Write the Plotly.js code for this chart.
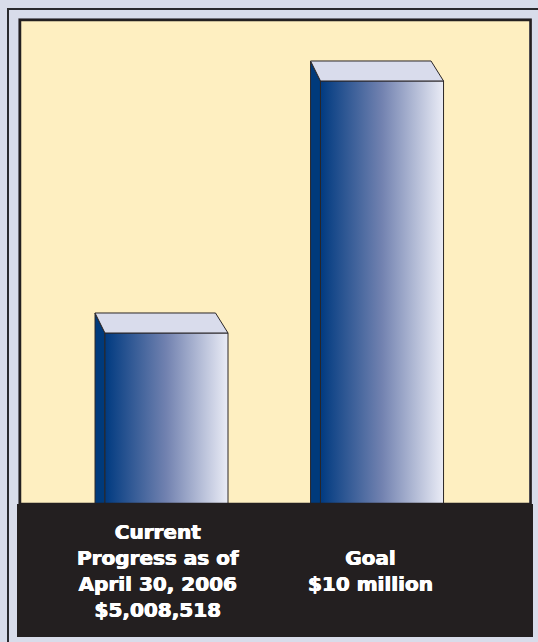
<!DOCTYPE html>
<html>
<head>
<meta charset="utf-8">
<script src="https://cdn.plot.ly/plotly-3.0.1.min.js"></script>
<style>html,body{margin:0;padding:0;background:#D8DCEA;}#chart{width:538px;height:642px;}</style>
</head>
<body>
<div id="chart"></div>
<script>
// ---- data ----
const categories = ['Current Progress as of April 30, 2006', 'Goal'];
const labels = ['Current<br>Progress as of<br>April 30, 2006<br>$5,008,518', 'Goal<br>$10 million'];
const values = [5008518, 10000000];
const positions = [0, 1];

// ---- styling constants ----
const W = 538, H = 642;
const M = {l: 21, r: 9, t: 21, b: 5};
const PW = W - M.l - M.r, PH = H - M.t - M.b;
const BAR_W = 0.571;          // front face width in axis units
const DEPTH_XL = 0.046;       // back-left offset
const DEPTH_XR = 0.058;       // back-right offset
const DEPTH_Y = 0.396e6;      // top depth in value units
const EDGE = '#2a2628';
const labelShift = [-8.5, -12];

function px(x) { return (x - M.l) / PW; }
function py(y) { return (H - M.b - y) / PH; }

const traces = [];
values.forEach((v, i) => {
  const c = positions[i];
  const xl = c - BAR_W / 2, xr = c + BAR_W / 2;
  // side face
  traces.push({
    type: 'scatter', mode: 'lines', fill: 'toself',
    x: [xl, xl, xl - DEPTH_XL, xl - DEPTH_XL, xl],
    y: [0, v, v + DEPTH_Y, DEPTH_Y, 0],
    fillcolor: '#003A7B', line: {color: EDGE, width: 1},
    hoverinfo: 'skip', showlegend: false
  });
  // front face with gradient
  traces.push({
    type: 'scatter', mode: 'lines', fill: 'toself',
    x: [xl, xr, xr, xl, xl],
    y: [0, 0, v, v, 0],
    fillgradient: {type: 'horizontal', colorscale: [[0, '#003A80'], [0.5, '#7282B0'], [1, '#EAECF6']]},
    line: {color: EDGE, width: 1},
    name: categories[i], hoverinfo: 'skip', showlegend: false
  });
  // top face
  traces.push({
    type: 'scatter', mode: 'lines', fill: 'toself',
    x: [xl, xr, xr - DEPTH_XR, xl - DEPTH_XL, xl],
    y: [v, v, v + DEPTH_Y, v + DEPTH_Y, v],
    fillcolor: '#D9DCEC', line: {color: EDGE, width: 1},
    hoverinfo: 'skip', showlegend: false
  });
});

const annotations = labels.map((t, i) => ({
  x: positions[i], xref: 'x', xshift: labelShift[i],
  y: py(570.5), yref: 'paper', yanchor: 'middle', xanchor: 'center',
  text: t, showarrow: false, align: 'center',
  font: {family: 'DejaVu Sans', size: 20, color: '#FFFFFF', weight: 'bold',
         shadow: '0.45px 0 0 #FFFFFF, -0.45px 0 0 #FFFFFF'}
}));

const shapes = [
  // outer frame line (left/top visible)
  {type: 'rect', xref: 'paper', yref: 'paper', x0: px(8), x1: px(560), y0: py(9), y1: py(680),
   line: {color: '#2a2a2e', width: 2}, fillcolor: 'rgba(0,0,0,0)', layer: 'above'},
  // inner panel shadow line
  {type: 'rect', xref: 'paper', yref: 'paper', x0: px(18.5), x1: px(531.5), y0: py(18.5), y1: py(504),
   line: {color: '#8C8E98', width: 1}, fillcolor: 'rgba(0,0,0,0)', layer: 'above'},
  // inner panel border
  {type: 'rect', xref: 'paper', yref: 'paper', x0: px(20), x1: px(530.5), y0: py(20), y1: py(504),
   line: {color: '#231F20', width: 2.5}, fillcolor: 'rgba(0,0,0,0)', layer: 'above'},
  // dark label band
  {type: 'rect', xref: 'paper', yref: 'paper', x0: px(17), x1: px(533), y0: py(504), y1: py(637),
   line: {width: 0}, fillcolor: '#231F20', layer: 'above'}
];

const layout = {
  width: W, height: H,
  margin: M,
  paper_bgcolor: '#D8DCEA',
  plot_bgcolor: '#FEEFC1',
  xaxis: {range: [-0.675, 1.682], showgrid: false, zeroline: false, showticklabels: false, showline: false, fixedrange: true},
  yaxis: {range: [-1.013e6, 11.188e6], showgrid: false, zeroline: false, showticklabels: false, showline: false, fixedrange: true},
  shapes: shapes,
  annotations: annotations,
  showlegend: false
};

Plotly.newPlot('chart', traces, layout, {displayModeBar: false, staticPlot: true});
</script>
</body>
</html>
